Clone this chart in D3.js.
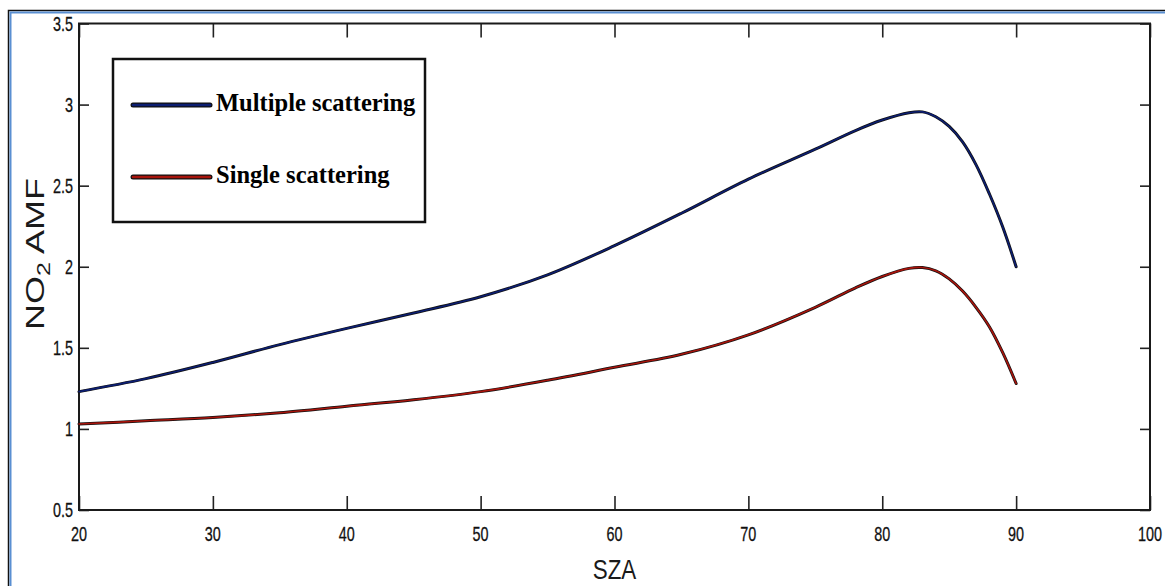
<!DOCTYPE html>
<html>
<head>
<meta charset="utf-8">
<script src="https://cdn.jsdelivr.net/npm/d3@7/dist/d3.min.js"></script>
<style>
  html, body { margin: 0; padding: 0; background: #fff; }
  svg { display: block; }
  .tick-label { font-family: "Liberation Sans", Arial, sans-serif; font-size: 20px; fill: #111; stroke: #111; stroke-width: 0.3px; }
  .axis-title { font-family: "Liberation Sans", Arial, sans-serif; fill: #1a1a1a; }
  .legend-text { font-family: "Liberation Serif", "Times New Roman", serif; font-weight: bold; font-size: 24.5px; fill: #000; }
</style>
</head>
<body>
<svg id="chart" width="1165" height="586"></svg>
<script>
// Solar zenith angle (degrees)
const sza = [20, 25, 30, 35, 40, 45, 50, 55, 60, 65, 70, 75, 78, 80, 82, 83, 84, 85, 86, 87, 88, 89, 90];
// NO2 air mass factor, multiple scattering
const multipleScattering = [1.23, 1.31, 1.41, 1.52, 1.62, 1.715, 1.815, 1.95, 2.13, 2.33, 2.54, 2.725, 2.84, 2.905, 2.95, 2.955, 2.925, 2.865, 2.77, 2.63, 2.45, 2.245, 2.00];
// NO2 air mass factor, single scattering
const singleScattering = [1.03, 1.05, 1.07, 1.10, 1.14, 1.18, 1.23, 1.30, 1.38, 1.46, 1.58, 1.75, 1.87, 1.94, 1.99, 1.995, 1.975, 1.925, 1.85, 1.75, 1.63, 1.47, 1.28];
// Axis ticks
const xTicks = [20, 30, 40, 50, 60, 70, 80, 90, 100];
const yTicks = [0.5, 1, 1.5, 2, 2.5, 3, 3.5];
const yTickLabels = ["0.5", "1", "1.5", "2", "2.5", "3", "3.5"];
const seriesNames = ["Multiple scattering", "Single scattering"];
const seriesColors = ["#0c1e72", "#a8140c"];

const svg = d3.select("#chart");

// Outer figure frame
svg.append("rect").attr("x", 8.5).attr("y", 10.5).attr("width", 1200).attr("height", 620)
  .attr("fill", "none").attr("stroke", "#111").attr("stroke-width", 1.5);
svg.append("rect").attr("x", 10.5).attr("y", 12.5).attr("width", 1200).attr("height", 620)
  .attr("fill", "none").attr("stroke", "#5a8fd2").attr("stroke-width", 2);

const plot = { left: 79, right: 1150, top: 23.5, bottom: 510 };

const x = d3.scaleLinear().domain([20, 100]).range([plot.left, plot.right]);
const y = d3.scaleLinear().domain([0.5, 3.5]).range([plot.bottom, plot.top]);

function styleTicks(g) {
  g.select(".domain").remove();
  g.selectAll("line").attr("stroke", "#222").attr("stroke-width", 1.6);
}

// Ticks pointing inward on all four sides
svg.append("g").attr("transform", `translate(0,${plot.bottom})`)
  .call(d3.axisBottom(x).tickValues(xTicks).tickSizeInner(-14).tickSizeOuter(0).tickFormat(() => ""))
  .call(styleTicks);
svg.append("g").attr("transform", `translate(0,${plot.top})`)
  .call(d3.axisTop(x).tickValues(xTicks).tickSizeInner(-14).tickSizeOuter(0).tickFormat(() => ""))
  .call(styleTicks);
svg.append("g").attr("transform", `translate(${plot.left},0)`)
  .call(d3.axisLeft(y).tickValues(yTicks).tickSizeInner(-10).tickSizeOuter(0).tickFormat(() => ""))
  .call(styleTicks);
svg.append("g").attr("transform", `translate(${plot.right},0)`)
  .call(d3.axisRight(y).tickValues(yTicks).tickSizeInner(-10).tickSizeOuter(0).tickFormat(() => ""))
  .call(styleTicks);

// Axes box
svg.append("rect")
  .attr("x", plot.left).attr("y", plot.top)
  .attr("width", plot.right - plot.left).attr("height", plot.bottom - plot.top)
  .attr("fill", "none").attr("stroke", "#1a1a1a").attr("stroke-width", 2);

// Tick labels (narrow)
svg.append("g").selectAll("text").data(xTicks).join("text")
  .attr("class", "tick-label")
  .attr("text-anchor", "middle")
  .attr("transform", d => `translate(${x(d)},${plot.bottom + 31}) scale(0.72,1)`)
  .text(d => d);
svg.append("g").selectAll("text").data(yTicks).join("text")
  .attr("class", "tick-label")
  .attr("text-anchor", "end")
  .attr("transform", d => `translate(${plot.left - 6},${y(d) + 7}) scale(0.72,1)`)
  .text((d, i) => yTickLabels[i]);

// Axis titles
svg.append("text").attr("class", "axis-title")
  .attr("text-anchor", "middle").style("font-size", "28px")
  .attr("transform", `translate(${(plot.left + plot.right) / 2},${579}) scale(0.8,1)`)
  .text("SZA");

const yTitle = svg.append("text").attr("class", "axis-title")
  .attr("text-anchor", "middle").style("font-size", "36px")
  .attr("transform", `translate(${44},${254}) rotate(-90) scale(1,0.72)`);
yTitle.append("tspan").text("NO");
yTitle.append("tspan").attr("dy", 9).style("font-size", "25px").text("2");
yTitle.append("tspan").attr("dy", -9).text(" AMF");

// Curves
const seriesValues = [multipleScattering, singleScattering];
const line = d3.line()
  .x(d => x(d[0]))
  .y(d => y(d[1]))
  .curve(d3.curveCatmullRom.alpha(0.5));

seriesValues.forEach((vals, i) => {
  const pts = sza.map((s, j) => [s, vals[j]]);
  // dark edge under the coloured stroke
  svg.append("path").datum(pts).attr("d", line)
    .attr("fill", "none").attr("stroke", "#111").attr("stroke-width", 3)
    .attr("stroke-linejoin", "round").attr("stroke-linecap", "round");
  svg.append("path").datum(pts).attr("d", line)
    .attr("fill", "none").attr("stroke", seriesColors[i]).attr("stroke-width", 1.6)
    .attr("stroke-linejoin", "round").attr("stroke-linecap", "round");
});

// Legend
const legend = { x: 113, y: 59, w: 312, h: 163 };
svg.append("rect")
  .attr("x", legend.x).attr("y", legend.y).attr("width", legend.w).attr("height", legend.h)
  .attr("fill", "#fff").attr("stroke", "#111").attr("stroke-width", 2.5);
const legendRows = [105, 177];
seriesNames.forEach((name, i) => {
  svg.append("line")
    .attr("x1", 133).attr("x2", 210).attr("y1", legendRows[i]).attr("y2", legendRows[i])
    .attr("stroke", "#111").attr("stroke-width", 5).attr("stroke-linecap", "round");
  svg.append("line")
    .attr("x1", 133).attr("x2", 210).attr("y1", legendRows[i]).attr("y2", legendRows[i])
    .attr("stroke", seriesColors[i]).attr("stroke-width", 2.6).attr("stroke-linecap", "round");
  svg.append("text").attr("class", "legend-text")
    .attr("x", 216).attr("y", legendRows[i] + 6)
    .text(name);
});
</script>
</body>
</html>
